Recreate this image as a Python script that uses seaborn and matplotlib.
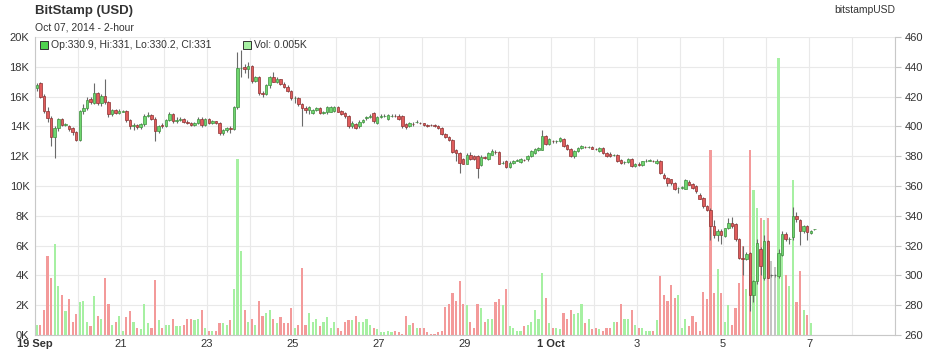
import numpy as np
import pandas as pd
import matplotlib
matplotlib.use("Agg")
import matplotlib.pyplot as plt
import matplotlib.dates as mdates
from matplotlib.patches import Rectangle
import seaborn as sns

# ---------------- data (2-hour candles, BitStamp USD) ----------------
start_time = "2014-09-19 01:00"

opens = [
    425.6, 428.9, 420.7, 410.4, 405.5, 392.9, 398.9, 405.0, 401.0, 400.0,
    398.9, 396.2, 391.1, 410.4, 412.2, 418.5, 416.0, 422.2, 415.6, 420.7,
    416.7, 408.2, 411.1, 408.9, 410.0, 410.3, 404.4, 400.0, 400.7, 399.3,
    401.6, 407.3, 407.8, 405.1, 396.7, 401.0, 400.2, 404.4, 408.2, 403.8,
    404.4, 405.0, 402.9, 402.5, 401.1, 402.2, 405.1, 400.7, 405.0, 402.2,
    403.3, 402.2, 395.6, 397.8, 398.9, 398.2, 413.3, 438.9, 440.0, 438.4,
    440.5, 430.4, 433.0, 422.2, 421.5, 427.8, 433.3, 430.0, 431.5, 428.5,
    426.7, 423.8, 418.9, 419.3, 414.9, 412.2, 411.0, 409.0, 411.1, 412.2,
    408.9, 409.5, 410.0, 410.4, 413.3, 410.4, 408.9, 406.7, 400.0, 401.6,
    400.0, 402.9, 405.8, 406.5, 408.9, 402.2, 406.0, 407.2, 405.1, 407.2,
    407.3, 407.3, 406.7, 401.6, 400.0, 401.7, 402.8, 402.3, 402.0, 401.1,
    401.1, 400.8, 400.4, 399.0, 395.0, 393.0, 391.1, 384.0, 382.2, 377.8,
    375.1, 381.1, 380.0, 380.4, 374.4, 379.2, 378.2, 381.1, 382.8, 382.7,
    375.4, 376.7, 372.9, 375.6, 377.0, 376.0, 377.5, 377.8, 380.0, 382.2,
    384.4, 384.4, 393.3, 388.4, 390.3, 390.0, 390.0, 391.6, 387.8, 384.9,
    380.4, 383.3, 385.6, 386.4, 386.2, 386.2, 385.1, 383.3, 385.6, 382.2,
    381.8, 380.8, 381.1, 377.3, 375.8, 376.0, 377.8, 373.3, 375.0, 374.4,
    376.6, 377.0, 377.0, 375.5, 377.1, 367.7, 365.5, 364.4, 362.0, 358.4,
    358.8, 358.3, 362.8, 361.4, 359.8, 354.2, 352.0, 346.9, 344.2, 333.0,
    327.4, 330.0, 326.3, 331.9, 335.3, 334.2, 324.1, 312.0, 311.3, 315.0,
    287.0, 296.0, 318.0, 298.3, 323.0, 300.0, 300.0, 299.5, 314.0, 328.0,
    324.5, 325.5, 340.0, 337.5, 329.7, 333.0, 328.5, 330.9,
]

highs = [
    429.0, 430.0, 421.5, 413.0, 407.0, 400.0, 405.5, 405.5, 402.0, 401.0,
    399.5, 397.0, 411.0, 415.0, 420.0, 419.5, 428.9, 423.0, 422.0, 431.8,
    417.0, 412.0, 412.0, 411.5, 411.0, 410.8, 405.0, 402.0, 401.5, 402.5,
    408.0, 410.0, 408.5, 406.0, 401.0, 402.0, 405.0, 409.5, 409.0, 406.0,
    406.0, 405.5, 404.0, 403.0, 403.0, 406.0, 406.0, 405.5, 405.5, 404.0,
    403.8, 402.8, 398.5, 399.5, 400.0, 414.0, 450.0, 451.0, 442.0, 443.5,
    441.0, 434.0, 434.0, 423.5, 428.5, 434.0, 436.5, 433.0, 432.0, 430.0,
    427.5, 424.5, 420.5, 420.0, 415.5, 413.5, 414.0, 412.0, 413.0, 413.0,
    410.5, 414.0, 414.0, 414.0, 414.0, 411.0, 409.5, 407.5, 403.5, 402.5,
    404.0, 405.0, 407.0, 408.0, 409.5, 407.0, 408.0, 408.0, 408.5, 408.0,
    408.0, 408.0, 407.5, 402.5, 403.0, 403.0, 404.0, 403.0, 402.5, 401.8,
    401.8, 401.5, 401.0, 399.5, 395.5, 393.5, 391.5, 385.0, 383.0, 379.0,
    382.0, 382.5, 381.0, 381.0, 380.5, 380.0, 383.0, 384.5, 384.0, 383.5,
    376.5, 377.5, 376.5, 377.5, 378.0, 378.5, 378.0, 380.5, 384.0, 385.5,
    386.5, 397.8, 394.0, 392.5, 391.0, 391.0, 393.0, 392.0, 388.5, 385.5,
    384.0, 386.0, 387.5, 387.0, 387.0, 386.8, 385.8, 386.0, 386.0, 382.8,
    382.5, 381.5, 381.5, 378.0, 377.0, 378.5, 378.5, 375.5, 376.0, 377.0,
    378.0, 377.8, 377.5, 377.8, 377.5, 368.5, 366.0, 365.0, 362.5, 359.5,
    360.0, 364.5, 364.0, 362.0, 360.5, 355.0, 352.5, 347.5, 345.0, 337.5,
    331.0, 331.0, 332.0, 338.5, 339.0, 335.0, 325.0, 320.0, 316.0, 316.0,
    297.0, 324.5, 319.0, 327.0, 324.0, 301.0, 301.0, 318.0, 330.0, 329.0,
    326.0, 346.0, 342.5, 338.0, 333.5, 333.5, 330.5, 331.0,
]

lows = [
    424.0, 419.0, 409.0, 403.0, 386.7, 378.9, 397.0, 400.0, 400.0, 397.0,
    394.5, 390.0, 390.5, 408.0, 411.0, 415.0, 415.0, 414.5, 414.0, 415.0,
    406.0, 407.0, 408.0, 408.0, 409.5, 403.0, 398.0, 397.5, 398.5, 398.5,
    400.5, 406.0, 404.0, 390.4, 395.5, 399.0, 399.5, 403.5, 402.5, 402.5,
    403.5, 402.0, 401.5, 400.0, 400.5, 401.5, 399.5, 400.0, 401.5, 401.5,
    401.5, 394.5, 394.0, 396.0, 395.5, 397.5, 412.0, 433.0, 436.0, 432.5,
    429.0, 429.5, 421.0, 420.0, 421.0, 425.5, 429.5, 429.0, 427.5, 426.0,
    423.0, 418.0, 416.0, 414.0, 400.0, 409.0, 408.0, 408.0, 410.5, 408.5,
    408.0, 408.5, 409.5, 409.5, 409.5, 407.5, 405.5, 399.0, 399.0, 398.0,
    399.0, 402.0, 404.5, 405.5, 402.5, 401.5, 405.5, 406.5, 404.5, 406.5,
    406.5, 404.5, 399.0, 398.5, 399.5, 400.5, 402.0, 401.5, 400.5, 399.5,
    400.2, 399.5, 398.5, 394.5, 392.5, 390.5, 382.0, 376.7, 369.0, 374.5,
    374.5, 377.5, 377.5, 365.6, 373.5, 378.0, 377.5, 380.5, 381.5, 374.5,
    374.5, 372.0, 372.0, 375.0, 376.5, 375.5, 376.5, 377.0, 379.5, 381.5,
    383.5, 384.0, 387.5, 387.5, 389.0, 389.0, 389.5, 386.0, 384.0, 379.5,
    379.0, 382.5, 385.0, 385.5, 385.5, 384.5, 384.0, 383.0, 381.5, 379.5,
    379.5, 380.0, 376.0, 375.0, 375.0, 375.5, 372.5, 372.5, 373.5, 373.5,
    376.0, 376.5, 376.0, 375.0, 368.0, 364.5, 360.0, 361.0, 357.5, 355.5,
    358.0, 358.0, 360.5, 358.0, 355.5, 351.0, 345.5, 343.5, 324.0, 325.0,
    323.0, 321.0, 325.5, 331.0, 332.0, 323.0, 311.0, 300.0, 310.0, 276.0,
    282.0, 294.0, 300.0, 297.0, 298.0, 299.0, 299.0, 298.0, 313.0, 323.0,
    321.0, 324.0, 336.0, 320.5, 328.5, 323.5, 327.5, 330.2,
]

closes = [
    427.8, 420.0, 410.4, 405.5, 392.9, 398.9, 405.1, 401.0, 401.5, 398.4,
    396.2, 391.1, 410.4, 412.2, 417.8, 416.5, 422.2, 415.6, 420.7, 416.7,
    408.2, 411.1, 408.9, 410.4, 410.3, 404.4, 400.0, 400.7, 399.3, 401.6,
    407.3, 407.8, 405.1, 396.7, 400.0, 400.2, 404.4, 408.2, 403.8, 404.4,
    405.0, 402.9, 402.5, 401.1, 402.2, 405.1, 400.7, 405.0, 402.2, 403.3,
    402.2, 395.6, 397.8, 398.9, 398.2, 413.3, 438.9, 439.3, 438.4, 440.5,
    430.4, 433.0, 422.2, 421.5, 427.8, 433.3, 430.0, 431.5, 428.5, 426.7,
    423.8, 418.9, 419.3, 414.9, 412.2, 411.0, 413.3, 411.1, 412.2, 408.9,
    409.5, 413.3, 413.3, 413.3, 410.0, 408.2, 406.7, 400.0, 402.2, 398.9,
    402.9, 404.4, 406.0, 406.7, 403.8, 406.0, 407.3, 407.3, 407.8, 407.3,
    407.2, 405.1, 400.0, 399.3, 402.2, 401.6, 402.9, 402.2, 401.1, 400.4,
    400.8, 400.0, 399.0, 395.0, 393.0, 391.1, 382.7, 382.2, 375.6, 375.1,
    381.1, 378.0, 378.2, 372.2, 379.3, 378.9, 382.2, 383.3, 382.7, 375.1,
    375.6, 372.9, 375.6, 376.7, 377.3, 377.8, 377.3, 380.0, 383.3, 384.9,
    385.6, 393.3, 388.4, 391.6, 390.0, 390.2, 392.2, 386.7, 384.9, 380.4,
    383.3, 385.6, 386.7, 386.2, 386.4, 384.9, 384.9, 385.6, 382.2, 380.0,
    380.0, 381.1, 376.7, 375.6, 376.0, 377.8, 373.3, 375.0, 374.4, 376.6,
    377.1, 377.2, 376.6, 377.1, 368.8, 365.5, 362.0, 362.0, 358.3, 358.7,
    359.1, 363.7, 361.0, 358.7, 356.5, 351.5, 346.4, 344.2, 333.0, 327.4,
    330.0, 326.8, 331.5, 335.3, 333.0, 324.1, 311.8, 311.3, 314.4, 287.0,
    296.0, 321.8, 306.0, 323.0, 298.3, 300.0, 300.0, 315.0, 328.0, 324.5,
    324.7, 340.0, 337.7, 329.7, 333.0, 329.3, 330.0, 331.0,
]

volumes_k = [
    0.65, 0.65, 1.7, 5.3, 3.8, 6.1, 3.26, 2.7, 1.6, 2.4,
    0.9, 1.4, 2.2, 2.25, 0.85, 0.58, 2.65, 1.3, 1.05, 3.8,
    2.05, 0.7, 0.9, 1.25, 0.3, 1.2, 1.58, 0.9, 0.5, 0.38,
    2.05, 0.78, 0.45, 3.66, 0.98, 0.45, 0.65, 0.65, 1.1, 0.58,
    0.58, 0.7, 1.05, 1.1, 0.98, 1.05, 1.65, 0.5, 0.25, 0.3,
    0.3, 0.78, 0.78, 0.7, 0.98, 3.06, 11.8, 5.67, 1.65, 0.9,
    1.05, 0.65, 2.25, 1.25, 1.5, 1.65, 1.05, 0.78, 1.2, 0.78,
    0.78, 1.8, 0.5, 0.65, 4.5, 0.7, 1.45, 0.9, 1.1,
    0.58, 0.9, 1.2, 0.5, 0.85, 0.5, 0.25, 0.85, 0.98, 0.98,
    1.25, 0.85, 0.9, 1.05, 0.7, 0.5, 0.38, 0.18, 0.18, 0.25,
    0.18, 0.3, 0.2, 0.1, 1.25, 0.7, 0.78, 0.5, 0.45, 0.45,
    0.18, 0.05, 0.1, 0.18, 0.25, 1.9, 2.05, 2.85, 2.3, 3.6,
    2.05, 2.0, 0.9, 0.45, 2.05, 1.8, 0.9, 1.05, 1.1, 2.2,
    2.4, 2.0, 3.06, 0.58, 0.45, 0.3, 0.3, 0.58, 0.7, 0.9,
    1.65, 1.1, 4.13, 2.5, 0.78, 0.5, 0.5, 0.38, 1.45, 1.05,
    1.7, 1.38, 1.45, 2.1, 0.78, 1.05, 0.38, 0.45, 0.38, 0.25,
    0.45, 0.45, 0.85, 0.85, 2.05,
    1.05, 1.05, 1.65, 0.7, 0.5, 0.45, 0.25, 0.3, 0.25, 0.98,
    3.93, 2.7, 2.3, 3.33, 2.45, 2.7, 0.5, 1.1, 0.58, 1.25,
    0.9, 0.25, 2.9, 2.4, 12.4, 2.8, 4.46, 2.85, 0.85, 2.0,
    0.7, 1.8, 3.46, 5.94, 3.06, 12.4, 9.75, 8.55, 7.86, 7.7,
    7.86, 4.95, 4.55, 18.6, 5.5, 4.0, 3.28, 10.4, 2.2, 4.3,
    1.7, 1.34, 0.78, 0.005,
]

volume_ticks_k = [0, 2, 4, 6, 8, 10, 12, 14, 16, 18, 20]
price_ticks = [260, 280, 300, 320, 340, 360, 380, 400, 420, 440, 460]
date_ticks = ["2014-09-19", "2014-09-21", "2014-09-23", "2014-09-25", "2014-09-27",
              "2014-09-29", "2014-10-01", "2014-10-03", "2014-10-05", "2014-10-07"]
date_labels = ["19 Sep", "21", "23", "25", "27", "29", "1 Oct", "3", "5", "7"]
x_range = ["2014-09-19", "2014-10-09"]

title = "BitStamp (USD)"
subtitle = "Oct 07, 2014 - 2-hour"
symbol = "bitstampUSD"

# ---------------- styling ----------------
sns.set_theme(style="white")
plt.rcParams["font.family"] = ["Liberation Sans", "DejaVu Sans"]

TXT = "#333333"
GRID = "#e9e9e9"
AXIS = "#c8c8c8"
UP_FACE, UP_EDGE = "#6fd66f", "#3e8f3e"
DN_FACE, DN_EDGE = "#e05c5c", "#8c3030"
FLAT = "#888888"
WICK = "#6a6a6a"
vol_palette = {"up": "#a6f0a2", "down": "#f39a9a", "flat": "#c4c4c4"}

n = len(closes)
assert len(opens) == n and len(highs) == n and len(lows) == n and len(volumes_k) == n, \
    (len(opens), len(highs), len(lows), len(closes), len(volumes_k))

times = pd.date_range(start_time, periods=n, freq="2h")
tnum = mdates.date2num(times.to_pydatetime())
o = np.array(opens); h = np.array(highs); l = np.array(lows); c = np.array(closes)
direction = np.where(c > o, "up", np.where(c < o, "down", "flat"))

W, H = 928, 356
fig = plt.figure(figsize=(W / 100, H / 100), dpi=100)
fig.patch.set_facecolor("white")
L_, R_, T_, B_ = 35, 895, 37, 335
ax = fig.add_axes([L_ / W, 1 - B_ / H, (R_ - L_) / W, (B_ - T_) / H])
ax.set_facecolor("white")

# volume bars (left axis) via seaborn
df = pd.DataFrame({"t": tnum, "vol": volumes_k, "dir": direction})
sns.barplot(data=df, x="t", y="vol", hue="dir", palette=vol_palette,
            hue_order=["up", "down", "flat"], native_scale=True, dodge=False,
            width=0.62, saturation=1, errorbar=None, legend=False,
            linewidth=0, ax=ax)

x0, x1 = mdates.datestr2num(x_range[0]), mdates.datestr2num(x_range[1])
ax.set_xlim(x0, x1)
ax.set_ylim(0, 20)
ax.set_yticks(volume_ticks_k)
ax.set_yticklabels([f"{v}K" for v in volume_ticks_k])
ax.set_xlabel(""); ax.set_ylabel("")

day_ticks = mdates.date2num(pd.date_range(x_range[0], x_range[1], freq="D").to_pydatetime())
ax.set_xticks(day_ticks, minor=True)
ax.set_xticks(mdates.datestr2num(date_ticks))
ax.set_xticklabels(date_labels)
for lab in ax.get_xticklabels():
    if not lab.get_text().isdigit():
        lab.set_fontweight("bold")
ax.grid(True, which="both", axis="x", color=GRID, lw=0.8)
ax.grid(True, which="major", axis="y", color=GRID, lw=0.8)
ax.set_axisbelow(True)
ax.tick_params(axis="x", which="both", length=0, pad=3, labelsize=8, labelcolor=TXT)
ax.tick_params(axis="y", length=0, pad=4, labelsize=8, labelcolor=TXT)
for s in ["top", "right"]:
    ax.spines[s].set_visible(False)
for s in ["left", "bottom"]:
    ax.spines[s].set_color(AXIS)
    ax.spines[s].set_linewidth(0.8)

# candles (right axis)
ax2 = ax.twinx()
ax2.patch.set_visible(False)
ax2.set_ylim(260, 460)
ax2.set_yticks(price_ticks)
ax2.tick_params(axis="y", length=4, width=0.8, color=AXIS, pad=3, labelsize=8, labelcolor=TXT)
for s in ["top", "left", "bottom"]:
    ax2.spines[s].set_visible(False)
ax2.spines["right"].set_color(AXIS)
ax2.spines["right"].set_linewidth(0.8)
ax2.grid(False)

wick_col = np.where(direction == "flat", FLAT, WICK)
ax2.vlines(tnum, l, h, colors=wick_col, lw=0.8, zorder=2)
body_w = 2 / 24 * 0.72
face = np.where(direction == "up", UP_FACE, np.where(direction == "down", DN_FACE, FLAT))
edge = np.where(direction == "up", UP_EDGE, np.where(direction == "down", DN_EDGE, "#555555"))
ax2.bar(tnum, np.abs(c - o), bottom=np.minimum(o, c), width=body_w,
        color=face, edgecolor=edge, linewidth=0.5, zorder=3)
ax2.set_xlim(x0, x1)

# ---------------- header texts ----------------
fig.text(35 / W, 1 - 11 / H, title, fontsize=9.5, fontweight="bold", color=TXT, ha="left", va="center")
fig.text(35 / W, 1 - 27 / H, subtitle, fontsize=7.5, color=TXT, ha="left", va="center")
fig.text(895 / W, 1 - 10 / H, symbol, fontsize=7.5, color=TXT, ha="right", va="center")

fig.patches.append(Rectangle((40 / W, 1 - 49 / H), 8 / W, 8 / H, transform=fig.transFigure,
                             facecolor="#4fd34f", edgecolor="#333333", lw=0.7))
fig.text(51 / W, 1 - 45 / H,
         f"Op:{opens[-1]:g}, Hi:{highs[-1]:g}, Lo:{lows[-1]:g}, Cl:{closes[-1]:g}",
         fontsize=7.5, color=TXT, ha="left", va="center")
fig.patches.append(Rectangle((243 / W, 1 - 49 / H), 8 / W, 8 / H, transform=fig.transFigure,
                             facecolor=vol_palette["up"], edgecolor="#333333", lw=0.7))
fig.text(254 / W, 1 - 45 / H, f"Vol: {volumes_k[-1]:g}K",
         fontsize=7.5, color=TXT, ha="left", va="center")

fig.savefig("out.png", dpi=100, facecolor="white")
